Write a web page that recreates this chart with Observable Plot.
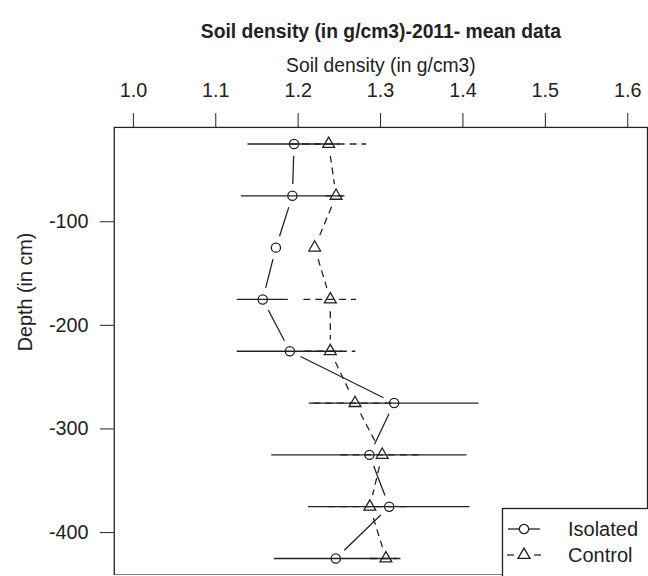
<!DOCTYPE html>
<html><head><meta charset="utf-8">
<script src="https://cdn.jsdelivr.net/npm/d3@7"></script>
<script src="https://cdn.jsdelivr.net/npm/@observablehq/plot@0.6"></script>
<style>
html,body{margin:0;padding:0;background:#fff;overflow:hidden;width:648px;height:576px;}
#chart{position:absolute;left:0;top:0;}
#legend{position:absolute;left:0;top:0;}
</style></head><body>
<div id="chart"></div>
<svg id="legend" width="648" height="576"></svg>
<script>
// ---- data ----
const depths = [-25, -75, -125, -175, -225, -275, -325, -375, -425];
const isolatedMean = [1.195, 1.193, 1.173, 1.157, 1.190, 1.3165, 1.2865, 1.3105, 1.2457];
const isolatedErr  = [0.056, 0.062, 0, 0.031, 0.064, 0.103, 0.1185, 0.098, 0.0747];
const controlMean  = [1.237, 1.246, 1.220, 1.239, 1.239, 1.269, 1.302, 1.287, 1.3065];
const controlErr   = [0.046, 0.012, 0, 0.032, 0.031, 0.05, 0.05, 0.05, 0.019];
const seriesNames = ["Isolated", "Control"];
const xTicks = [1.0, 1.1, 1.2, 1.3, 1.4, 1.5, 1.6];
const yTicks = [-100, -200, -300, -400];
const titleText = "Soil density (in g/cm3)-2011- mean data";
const xLabelText = "Soil density (in g/cm3)";
const yLabelText = "Depth (in cm)";

// ---- layout ----
const FONT = "'Liberation Sans', Arial, Helvetica, sans-serif";
const INK = "#222";
const W = 655, H = 581, mL = 115, mR = 1, mT = 128.3, mB = 0.2;
const xDomain = [0.9768, 1.624];
const yDomain = [-441, -9];
const DASH = "7,5";
const LW = 1.3;

const isolated = depths.map((d, i) => ({depth: d, value: isolatedMean[i], err: isolatedErr[i], series: seriesNames[0]}));
const control  = depths.map((d, i) => ({depth: d, value: controlMean[i],  err: controlErr[i],  series: seriesNames[1]}));

const sx = Plot.scale({x: {domain: xDomain, range: [mL, W - mR]}});
const sy = Plot.scale({y: {domain: yDomain, range: [H - mB, mT]}});
const GAP = 12;
function gapped(rows) {
  const segs = [];
  for (let i = 0; i < rows.length - 1; i++) {
    const a = rows[i], b = rows[i + 1];
    const ax = sx.apply(a.value), ay = sy.apply(a.depth), bx = sx.apply(b.value), by = sy.apply(b.depth);
    const dx = bx - ax, dy = by - ay, L = Math.hypot(dx, dy);
    if (L <= 2 * GAP) continue;
    const ux = dx / L, uy = dy / L;
    segs.push({x1: sx.invert(ax + ux * GAP), y1: sy.invert(ay + uy * GAP),
               x2: sx.invert(bx - ux * GAP), y2: sy.invert(by - uy * GAP)});
  }
  return segs;
}

const chart = Plot.plot({
  width: W, height: H,
  marginLeft: mL, marginRight: mR, marginTop: mT, marginBottom: mB,
  style: {fontFamily: FONT, fontSize: "20px", color: INK, background: "white"},
  x: {domain: xDomain, axis: "top", ticks: xTicks, tickFormat: d3.format(".1f"), tickSize: 15, tickPadding: 16, label: null},
  y: {domain: yDomain, ticks: yTicks, tickFormat: d => String(d), tickSize: 14, tickPadding: 12, label: null},
  marks: [
    Plot.frame({stroke: INK, strokeWidth: LW}),
    Plot.link(gapped(isolated), {x1: "x1", y1: "y1", x2: "x2", y2: "y2", stroke: INK, strokeWidth: LW}),
    Plot.link(gapped(control), {x1: "x1", y1: "y1", x2: "x2", y2: "y2", stroke: INK, strokeWidth: LW, strokeDasharray: DASH}),
    Plot.ruleY(isolated.filter(d => d.err > 0), {y: "depth", x1: d => d.value - d.err, x2: d => d.value + d.err, stroke: INK, strokeWidth: LW}),
    Plot.ruleY(control.filter(d => d.err > 0), {y: "depth", x1: d => d.value - d.err, x2: d => d.value + d.err, stroke: INK, strokeWidth: LW, strokeDasharray: DASH}),
    Plot.dot(isolated, {x: "value", y: "depth", r: 4.65, stroke: INK, strokeWidth: LW, fill: "none"}),
    Plot.dot(control, {x: "value", y: "depth", symbol: "triangle", r: 4.45, stroke: INK, strokeWidth: LW, fill: "none"}),
    Plot.text([titleText], {frameAnchor: "top", dy: -104.7, text: d => d, fontWeight: "bold", fontSize: 19.5, fill: INK}),
    Plot.text([xLabelText], {frameAnchor: "top", dy: -69.6, text: d => d, fontSize: 19.5, fill: INK}),
    Plot.text([yLabelText], {frameAnchor: "left", dx: -90, rotate: -90, text: d => d, fontSize: 20, fill: INK})
  ]
});
document.getElementById("chart").appendChild(chart);

// ---- legend (drawn by hand, bottom right inside the frame) ----
const lg = d3.select("#legend");
lg.append("rect").attr("x", 502.5).attr("y", 508.5).attr("width", 200).attr("height", 100)
  .attr("fill", "white").attr("stroke", INK).attr("stroke-width", LW);
const rows = [
  {name: seriesNames[0], y: 529, symbol: d3.symbolCircle, r: 4.65, dashed: false},
  {name: seriesNames[1], y: 555, symbol: d3.symbolTriangle, r: 4.45, dashed: true}
];
for (const row of rows) {
  if (row.dashed) {
    lg.append("line").attr("x1", 507).attr("x2", 514).attr("y1", row.y).attr("y2", row.y).attr("stroke", INK).attr("stroke-width", LW);
    lg.append("line").attr("x1", 534).attr("x2", 541).attr("y1", row.y).attr("y2", row.y).attr("stroke", INK).attr("stroke-width", LW);
  } else {
    lg.append("line").attr("x1", 508).attr("x2", 540).attr("y1", row.y).attr("y2", row.y).attr("stroke", INK).attr("stroke-width", LW);
  }
  lg.append("path").attr("d", d3.symbol(row.symbol, Math.PI * row.r * row.r)())
    .attr("transform", `translate(524,${row.y})`).attr("fill", row.dashed ? "none" : "white").attr("stroke", INK).attr("stroke-width", LW);
  lg.append("text").attr("x", 568).attr("y", row.y + 7.2).text(row.name)
    .attr("font-family", FONT).attr("font-size", 20).attr("fill", INK);
}
</script>
</body></html>
